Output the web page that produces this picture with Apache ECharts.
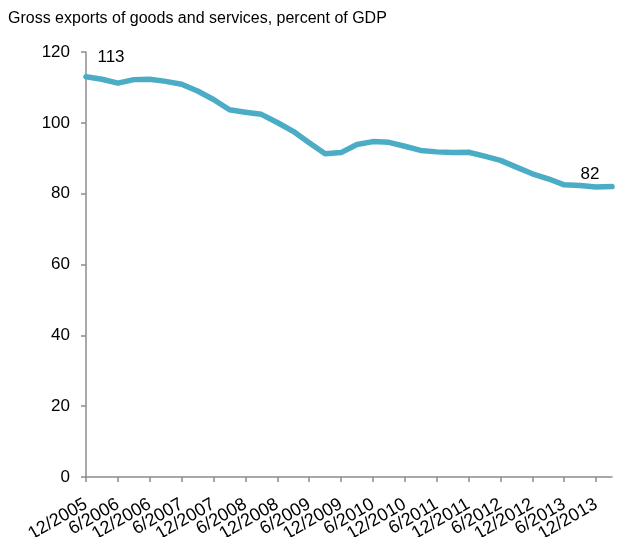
<!DOCTYPE html>
<html>
<head>
<meta charset="utf-8">
<title>Gross exports of goods and services</title>
<script src="https://cdn.jsdelivr.net/npm/echarts@6/dist/echarts.min.js"></script>
<style>
  html, body { margin: 0; padding: 0; background: #fff; }
  #chart { width: 619px; height: 537px; }
</style>
</head>
<body>
<div id="chart"></div>
<script>
// Quarterly observations, December 2005 to March 2014
const quarters = [
  '12/2005', '3/2006', '6/2006', '9/2006', '12/2006', '3/2007', '6/2007', '9/2007',
  '12/2007', '3/2008', '6/2008', '9/2008', '12/2008', '3/2009', '6/2009', '9/2009',
  '12/2009', '3/2010', '6/2010', '9/2010', '12/2010', '3/2011', '6/2011', '9/2011',
  '12/2011', '3/2012', '6/2012', '9/2012', '12/2012', '3/2013', '6/2013', '9/2013',
  '12/2013', '3/2014'
];

// Gross exports, percent of GDP
const exportsPctGdp = [
  113.0, 112.3, 111.2, 112.2, 112.3, 111.7, 110.9, 109.0,
  106.6, 103.7, 103.0, 102.4, 100.1, 97.6, 94.4, 91.3,
  91.6, 93.9, 94.7, 94.5, 93.4, 92.2, 91.8, 91.6,
  91.7, 90.6, 89.4, 87.5, 85.6, 84.2, 82.5, 82.3,
  81.9, 82.0
];

const yTicks = { min: 0, max: 120, interval: 20 };

const FONT = '"Liberation Sans", Arial, sans-serif';
const LINE_COLOR = '#4bacc6';
const firstIdx = 0;
const lastIdx = exportsPctGdp.length - 1;

// Only the first and last observations carry a value label
const seriesData = exportsPctGdp.map((v, i) =>
  (i === firstIdx || i === lastIdx) ? { value: v, label: { show: true } } : v
);

// Nudge the two value labels clear of the axis and the right edge
const labelNudge = {
  [firstIdx]: { dx: 25, dy: -5 },
  [lastIdx]: { dx: -22, dy: 2 }
};

// Label and tick every half year (December and June)
const everyOther = (i) => i % 2 === 0;

const chart = echarts.init(document.getElementById('chart'), null, { renderer: 'canvas' });

chart.setOption({
  animation: false,
  backgroundColor: '#ffffff',
  textStyle: { fontFamily: FONT },
  title: {
    text: 'Gross exports of goods and services, percent of GDP',
    left: 3,
    top: 6,
    textStyle: { fontFamily: FONT, fontSize: 16, fontWeight: 'normal', color: '#000' }
  },
  grid: {
    left: 86, right: 7, top: 52, bottom: 60,
    containLabel: false,
    outerBoundsMode: 'none'
  },
  xAxis: {
    type: 'category',
    data: quarters,
    boundaryGap: false,
    axisLine: { lineStyle: { color: '#8c8c8c', width: 1.5 } },
    axisTick: { show: true, interval: everyOther, length: 5, lineStyle: { color: '#8c8c8c', width: 1.5 } },
    axisLabel: {
      interval: 0,
      formatter: (val, i) => (everyOther(i) ? val : ''),
      hideOverlap: false,
      rotate: 30,
      margin: 26,
      color: '#000',
      fontSize: 18,
      fontFamily: FONT
    },
    splitLine: { show: false }
  },
  yAxis: {
    type: 'value',
    min: yTicks.min,
    max: yTicks.max,
    interval: yTicks.interval,
    axisLine: { show: true, lineStyle: { color: '#8c8c8c', width: 1.5 } },
    axisTick: { show: true, length: 5, lineStyle: { color: '#8c8c8c', width: 1.5 } },
    axisLabel: { margin: 16, color: '#000', fontSize: 17, fontFamily: FONT },
    splitLine: { show: false }
  },
  series: [{
    type: 'line',
    data: seriesData,
    symbol: 'circle',
    symbolSize: 1,
    showSymbol: true,
    showAllSymbol: true,
    smooth: false,
    lineStyle: { color: LINE_COLOR, width: 5.5, cap: 'round', join: 'round' },
    itemStyle: { color: LINE_COLOR, borderWidth: 0 },
    label: {
      show: false,
      position: 'top',
      distance: 5,
      color: '#000',
      fontSize: 17,
      fontFamily: FONT,
      formatter: p => Math.round(p.value)
    },
    labelLayout: (params) => Object.assign({ hideOverlap: false }, labelNudge[params.dataIndex] || {})
  }]
});
</script>
</body>
</html>
